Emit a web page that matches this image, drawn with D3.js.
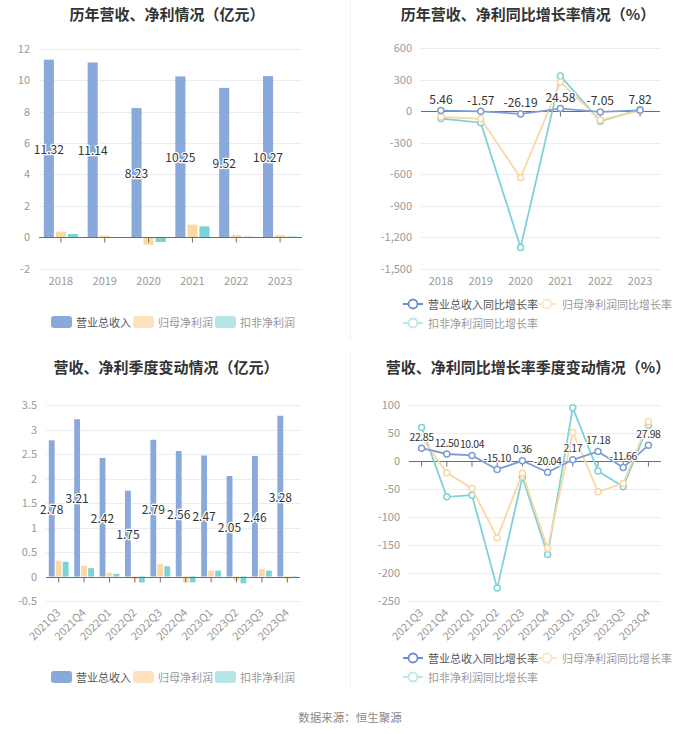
<!DOCTYPE html>
<html><head><meta charset="utf-8">
<script src="https://cdn.jsdelivr.net/npm/d3@7"></script>
<style>
html,body{margin:0;padding:0;background:#fff;}
svg text{font-family:"Noto Sans CJK SC","Noto Sans",sans-serif;}
</style>
</head><body>
<svg id="c" width="700" height="734"></svg>
<script>
// ---------- data ----------
const years = ["2018","2019","2020","2021","2022","2023"];
const annualRevenue = [11.32, 11.14, 8.23, 10.25, 9.52, 10.27];
const annualNetProfit = [0.35, 0.09, -0.49, 0.80, 0.13, 0.14];
const annualDeducted = [0.20, -0.02, -0.31, 0.69, 0.03, 0.04];
const annualRevenueGrowth = [5.46, -1.57, -26.19, 24.58, -7.05, 7.82];
const annualNetProfitGrowth = [-54, -73, -632, 276, -85, 6];
const annualDeductedGrowth = [-70, -110, -1295, 335, -95, 15];

const quarters = ["2021Q3","2021Q4","2022Q1","2022Q2","2022Q3","2022Q4","2023Q1","2023Q2","2023Q3","2023Q4"];
const qRevenue = [2.78, 3.21, 2.42, 1.75, 2.79, 2.56, 2.47, 2.05, 2.46, 3.28];
const qNetProfit = [0.32, 0.22, 0.08, -0.05, 0.25, -0.12, 0.12, -0.08, 0.15, -0.05];
const qDeducted = [0.30, 0.17, 0.055, -0.12, 0.21, -0.12, 0.12, -0.14, 0.12, -0.03];
const qRevenueGrowth = [22.85, 12.50, 10.04, -15.10, 0.36, -20.04, 2.17, 17.18, -11.66, 27.98];
const qNetProfitGrowth = [42, -21, -49, -137, -22, -156, 51, -55, -40, 70];
const qDeductedGrowth = [60, -64, -61, -227, -29, -167, 95, -18, -46, 64];

const annualBarTicks = [-2, 0, 2, 4, 6, 8, 10, 12];
const annualGrowthTicks = [-1500, -1200, -900, -600, -300, 0, 300, 600];
const quarterBarTicks = [-0.5, 0, 0.5, 1, 1.5, 2, 2.5, 3, 3.5];
const quarterGrowthTicks = [-250, -200, -150, -100, -50, 0, 50, 100];

const barSeriesNames = ["营业总收入", "归母净利润", "扣非净利润"];
const lineSeriesNames = ["营业总收入同比增长率", "归母净利润同比增长率", "扣非净利润同比增长率"];
const titles = ["历年营收、净利情况（亿元）", "历年营收、净利同比增长率情况（%）",
                "营收、净利季度变动情况（亿元）", "营收、净利同比增长率季度变动情况（%）"];
const sourceText = "数据来源：恒生聚源";

// ---------- style ----------
const barColors = ["#89a9db", "#fcd9a2", "#7cd3d6"];
const barLegendColors = ["#89a9db", "#fde2bd", "#b6e5e7"];
const lineColors = ["#7f9dd5", "#fad7a3", "#7dd3d7"];
const lineLegendColors = ["#6d8cc9", "#fde5c6", "#b9e6e9"];
const gridColor = "#e9edf3";
const axisColor = "#6e6e6e";
const labelColor = "#9a9a9a";

const loc = d3.formatLocale({decimal: ".", thousands: ",", grouping: [3], currency: ["", ""], minus: "-"});
const fmtComma = loc.format(",");
const fmt2 = loc.format(".2f");
const fmtPlain = d => loc.format("")(d);

const svg = d3.select("#c");

// dividers
svg.append("line").attr("x1", 350.5).attr("x2", 350.5).attr("y1", 0).attr("y2", 340).attr("stroke", "#f0f0f0");
svg.append("line").attr("x1", 350.5).attr("x2", 350.5).attr("y1", 352).attr("y2", 690).attr("stroke", "#f0f0f0");

function title(text, cx, cy) {
  svg.append("text").attr("x", cx).attr("y", cy).attr("text-anchor", "middle")
    .attr("dominant-baseline", "central").attr("font-size", 15).attr("font-weight", "bold")
    .attr("fill", "#333").text(text);
}
title(titles[0], 167, 13);
title(titles[1], 528, 13);
title(titles[2], 166, 366);
title(titles[3], 528, 366);

svg.append("text").attr("x", 350).attr("y", 717).attr("text-anchor", "middle")
  .attr("dominant-baseline", "central").attr("font-size", 11.5).attr("fill", "#888").text(sourceText);

function frame(cfg) {
  const g = svg.append("g");
  const x = d3.scaleBand().domain(cfg.cats).range([cfg.x0, cfg.x1]).padding(0);
  const y = d3.scaleLinear().domain([cfg.ticks[0], cfg.ticks[cfg.ticks.length - 1]]).range([cfg.yb, cfg.yt]);
  g.append("g").selectAll("line").data(cfg.ticks).join("line")
    .attr("x1", cfg.x0).attr("x2", cfg.x1)
    .attr("y1", d => Math.round(y(d)) + 0.5).attr("y2", d => Math.round(y(d)) + 0.5)
    .attr("stroke", gridColor);
  const ya = g.append("g").attr("transform", `translate(${cfg.x0 - 6},0)`)
    .call(d3.axisLeft(y).tickValues(cfg.ticks).tickSize(0).tickFormat(cfg.yfmt));
  ya.select(".domain").remove();
  ya.selectAll("text").attr("fill", labelColor).attr("font-size", 11).attr("font-family", null);
  return {g, x, y};
}

function zeroAxis(g, x, y, cfg) {
  const za = g.append("g").attr("transform", `translate(0,${Math.round(y(0)) + 0.5})`)
    .call(d3.axisBottom(x).tickSize(5).tickFormat(""));
  za.select(".domain").attr("stroke", axisColor).attr("d", `M${cfg.x0},0H${cfg.x1}`);
  za.selectAll(".tick line").attr("stroke", axisColor);
}

function xLabels(g, x, cfg) {
  if (cfg.rotate) {
    g.append("g").selectAll("text").data(cfg.cats).join("text")
      .attr("transform", d => `translate(${x(d) + x.bandwidth() / 2 - 1},${cfg.yb + 9}) rotate(-45)`)
      .attr("text-anchor", "end").attr("dominant-baseline", "central")
      .attr("font-size", 11).attr("fill", labelColor).text(d => d);
  } else {
    g.append("g").selectAll("text").data(cfg.cats).join("text")
      .attr("x", d => x(d) + x.bandwidth() / 2).attr("y", cfg.yb + 11)
      .attr("text-anchor", "middle").attr("dominant-baseline", "central")
      .attr("font-size", 11).attr("fill", labelColor).text(d => d);
  }
}

function barPanel(cfg) {
  const {g, x, y} = frame(cfg);
  const bw = x.bandwidth() * 0.23;
  const step = x.bandwidth() * 0.275;
  cfg.series.forEach((vals, si) => {
    g.append("g").selectAll("rect").data(vals).join("rect")
      .attr("x", (d, i) => x(cfg.cats[i]) + x.bandwidth() / 2 + (si - 1) * step - bw / 2)
      .attr("width", bw)
      .attr("y", d => Math.min(y(d), y(0)))
      .attr("height", d => Math.abs(y(d) - y(0)))
      .attr("fill", barColors[si]);
  });
  zeroAxis(g, x, y, cfg);
  xLabels(g, x, cfg);
  g.append("g").selectAll("text").data(cfg.series[0]).join("text")
    .attr("x", (d, i) => x(cfg.cats[i]) + x.bandwidth() / 2 - step)
    .attr("y", d => (y(d) + y(0)) / 2)
    .attr("text-anchor", "middle").attr("dominant-baseline", "central")
    .attr("font-size", 12).attr("fill", "#333")
    .attr("stroke", "#fff").attr("stroke-width", 2.5).attr("paint-order", "stroke").attr("stroke-linejoin", "round")
    .text(d => fmt2(d));
  const lg = g.append("g");
  cfg.legendX.forEach((lx, i) => {
    lg.append("rect").attr("x", lx).attr("y", cfg.legendY - 6).attr("width", 21).attr("height", 12)
      .attr("rx", 3).attr("fill", barLegendColors[i]);
    lg.append("text").attr("x", lx + 25).attr("y", cfg.legendY).attr("dominant-baseline", "central")
      .attr("font-size", 11).attr("fill", i === 0 ? "#555" : "#999").text(barSeriesNames[i]);
  });
}

function linePanel(cfg) {
  const {g, x, y} = frame(cfg);
  zeroAxis(g, x, y, cfg);
  xLabels(g, x, cfg);
  const cx = i => x(cfg.cats[i]) + x.bandwidth() / 2;
  const line = d3.line().x((d, i) => cx(i)).y(d => y(d));
  [2, 1, 0].forEach(si => {
    const vals = cfg.series[si];
    g.append("path").datum(vals).attr("d", line).attr("fill", "none")
      .attr("stroke", lineColors[si]).attr("stroke-width", 1.8);
    g.append("g").selectAll("circle").data(vals).join("circle")
      .attr("cx", (d, i) => cx(i)).attr("cy", d => y(d)).attr("r", 3)
      .attr("fill", "#fff").attr("stroke", lineColors[si]).attr("stroke-width", 1.5);
  });
  g.append("g").selectAll("text").data(cfg.series[0]).join("text")
    .attr("x", (d, i) => cx(i)).attr("y", d => y(d) - 12)
    .attr("text-anchor", "middle").attr("dominant-baseline", "central")
    .attr("font-size", cfg.labelSize).attr("letter-spacing", cfg.labelSpacing).attr("fill", "#333")
    .attr("stroke", "#fff").attr("stroke-width", 2.5).attr("paint-order", "stroke").attr("stroke-linejoin", "round")
    .text(d => fmt2(d));
  const lg = g.append("g");
  const pos = [[cfg.lx[0], cfg.ly[0]], [cfg.lx[1], cfg.ly[0]], [cfg.lx[0], cfg.ly[1]]];
  pos.forEach(([lx, ly], i) => {
    lg.append("line").attr("x1", lx).attr("x2", lx + 20).attr("y1", ly).attr("y2", ly)
      .attr("stroke", lineLegendColors[i]).attr("stroke-width", 2);
    lg.append("circle").attr("cx", lx + 10).attr("cy", ly).attr("r", 4.5)
      .attr("fill", "#fff").attr("stroke", lineLegendColors[i]).attr("stroke-width", 1.8);
    lg.append("text").attr("x", lx + 25).attr("y", ly).attr("dominant-baseline", "central")
      .attr("font-size", 11).attr("fill", i === 0 ? "#555" : "#999").text(lineSeriesNames[i]);
  });
}

barPanel({cats: years, series: [annualRevenue, annualNetProfit, annualDeducted],
  ticks: annualBarTicks, x0: 39, x1: 302, yt: 49, yb: 268.5, yfmt: fmtPlain,
  legendX: [51, 133, 215], legendY: 322, rotate: false});

linePanel({cats: years, series: [annualRevenueGrowth, annualNetProfitGrowth, annualDeductedGrowth],
  ticks: annualGrowthTicks, x0: 421, x1: 660, yt: 48, yb: 269, yfmt: fmtComma,
  lx: [403, 537], ly: [304, 323], rotate: false, labelSize: 12, labelSpacing: 0});

linePanel({cats: quarters, series: [qRevenueGrowth, qNetProfitGrowth, qDeductedGrowth],
  ticks: quarterGrowthTicks, x0: 409, x1: 661, yt: 405, yb: 601, yfmt: fmtPlain,
  lx: [403, 537], ly: [658, 677], rotate: true, labelSize: 10.5, labelSpacing: -0.4});

barPanel({cats: quarters, series: [qRevenue, qNetProfit, qDeducted],
  ticks: quarterBarTicks, x0: 46, x1: 300, yt: 405, yb: 601, yfmt: fmtPlain,
  legendX: [51, 133, 215], legendY: 677, rotate: true});
</script>
</body></html>
